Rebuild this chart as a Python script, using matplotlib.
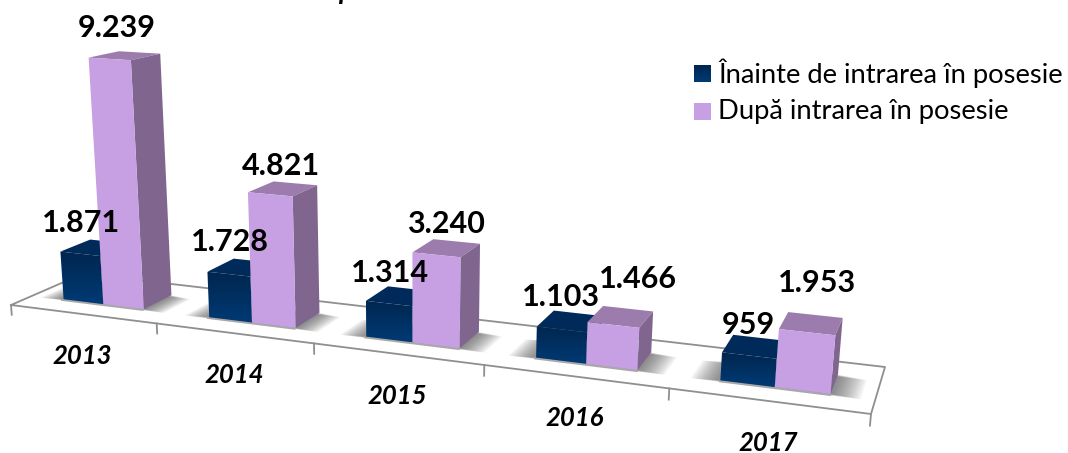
#!/usr/bin/env python3
"""3D style column chart, drawn through a small projective camera."""

import numpy as np
import matplotlib
matplotlib.use("Agg")
import matplotlib.pyplot as plt
from matplotlib.colors import LinearSegmentedColormap
from matplotlib.patches import Polygon

YEARS = ["2013", "2014", "2015", "2016", "2017"]
BEFORE = [1871, 1728, 1314, 1103, 959]
AFTER = [9239, 4821, 3240, 1466, 1953]
BEFORE_LABELS = ["1.871", "1.728", "1.314", "1.103", "959"]
AFTER_LABELS = ["9.239", "4.821", "3.240", "1.466", "1.953"]
SERIES_NAMES = ["Înainte de intrarea în posesie", "După intrarea în posesie"]

NAVY_TOP = "#003a75"
NAVY_BOTTOM = "#00264f"
NAVY_CAP = "#002a59"
NAVY_SIDE = "#001f40"
LILAC = "#c6a0e2"
LILAC_CAP = "#9b7cad"
LILAC_SIDE = "#80668f"
FLOOR_LINE = "#8f8f8f"

# floor corners on the canvas: front left, front right, back right, back left
FLOOR = np.array([[11, 305], [871, 414], [885, 367], [83, 273.7]], dtype=float)
VANISH = np.array([413.0, 5500.0])
K = -4.92e-6

plt.rcParams["font.family"] = ["Lato", "DejaVu Sans"]


def camera():
    (x0, y0), (x1, y1), (x2, y2), (x3, y3) = FLOOR
    sx, sy = x0 - x1 + x2 - x3, y0 - y1 + y2 - y3
    dx1, dy1, dx2, dy2 = x1 - x2, y1 - y2, x3 - x2, y3 - y2
    den = dx1 * dy2 - dx2 * dy1
    g = (sx * dy2 - dx2 * sy) / den
    h = (dx1 * sy - sx * dy1) / den
    n = len(YEARS)
    return np.array([
        [(x1 - x0 + g * x1) / n, x3 - x0 + h * x3, K * VANISH[0], x0],
        [(y1 - y0 + g * y1) / n, y3 - y0 + h * y3, K * VANISH[1], y0],
        [g / n, h, K, 1.0],
    ])


CAM = camera()


def pt(u, d, v=0.0):
    p = CAM @ np.array([u, d, v, 1.0])
    return p[:2] / p[2]


def face(ax, corners, color, z):
    ax.add_patch(Polygon([pt(*c) for c in corners], closed=True, facecolor=color,
                         edgecolor="none", zorder=z))


def gradient_fill(ax, xy, cmap, z):
    # vertical gradient, clipped to the outline
    outline = Polygon(xy, closed=True, facecolor="none", edgecolor="none")
    ax.add_patch(outline)
    xy = np.asarray(xy)
    img = ax.imshow(np.linspace(1, 0, 64).reshape(-1, 1), cmap=cmap, aspect="auto", zorder=z, vmin=0, vmax=1,
                    extent=(xy[:, 0].min(), xy[:, 0].max(), xy[:, 1].max(), xy[:, 1].min()))
    img.set_clip_path(outline)


def draw_bar(ax, left, right, near, far, value, colors, z):
    cap, side, front = colors
    face(ax, [(left, near, value), (right, near, value), (right, far, value), (left, far, value)], cap, z)
    face(ax, [(right, near, 0), (right, far, 0), (right, far, value), (right, near, value)], side, z)
    corners = [(left, near, 0), (right, near, 0), (right, near, value), (left, near, value)]
    if isinstance(front, str):
        face(ax, corners, front, z)
    else:
        gradient_fill(ax, [pt(*c) for c in corners], front, z)


def draw_shadow(ax, left, right, near, far, z):
    for e in np.linspace(0.15, 0.0, 15):
        corners = [(left - e, near - e * 0.2, 0), (right + e, near - e * 0.2, 0),
                   (right + e, far - e * 0.3, 0), (left - e, far - e * 0.3, 0)]
        ax.add_patch(Polygon([pt(*c) for c in corners], closed=True, facecolor="#404040",
                             edgecolor="none", alpha=0.06, zorder=z))
    ax.plot(*zip(pt(left, near - 0.02), pt(right, near - 0.02)), color="#a8a8a8", lw=1.5, zorder=z)


def main():
    fig = plt.figure(figsize=(10.68, 4.53), dpi=100)
    ax = fig.add_axes([0, 0, 1, 1])
    navy = LinearSegmentedColormap.from_list("navy", [NAVY_TOP, NAVY_BOTTOM])

    n = len(YEARS)
    near, far = 0.29, 0.71
    width = 0.28

    # floor plate and tick marks
    edges = [(0, 0), (n, 0), (n, 1), (0, 1), (0, 0)]
    ax.plot(*zip(*[pt(u, d) for u, d in edges]), color=FLOOR_LINE, lw=1.3, zorder=1)
    for i in range(n + 1):
        ax.plot(*zip(pt(i, 0), pt(i, 0, -380)), color=FLOOR_LINE, lw=1.3, zorder=1)

    before_nudge = [(1, -2), (1, -3), (1, -2), (-1, -3), (-1, -2)]
    after_nudge = [(7, -2), (11, 1), (10, -2), (25, -17), (10, -20)]

    for i in range(n):
        a, b, c = i + 0.5 - width, i + 0.5, i + 0.5 + width
        draw_shadow(ax, a, c, near, far, 2)
        z = 3 + i
        draw_bar(ax, a, b, near, far, BEFORE[i], (NAVY_CAP, NAVY_SIDE, navy), z)
        draw_bar(ax, b, c, near, far, AFTER[i], (LILAC_CAP, LILAC_SIDE, LILAC), z)

        lx, ly = pt((a + b) / 2, near, BEFORE[i])
        ax.text(lx + before_nudge[i][0], ly - 29 + before_nudge[i][1], BEFORE_LABELS[i], ha="center", va="center",
                fontsize=22, fontweight="bold", color="black", zorder=20)
        lx, ly = pt((b + c) / 2, near, AFTER[i])
        ax.text(lx + after_nudge[i][0], ly - 29 + after_nudge[i][1], AFTER_LABELS[i], ha="center", va="center",
                fontsize=22, fontweight="bold", color="black", zorder=20)

        tx, ty = pt(i + 0.5, 0)
        ax.text(tx, ty + 42, YEARS[i], ha="center", va="center", fontsize=18.5, fontweight="bold",
                fontstyle="italic", color="black", zorder=20)

    # legend
    gradient_fill(ax, [(694, 65), (711, 65), (711, 82), (694, 82)], navy, 20)
    ax.add_patch(Polygon([(694, 103), (711, 103), (711, 120), (694, 120)], closed=True, facecolor=LILAC,
                         edgecolor="none", zorder=20))
    for y, name in zip([73, 111], SERIES_NAMES):
        ax.text(718, y, name, ha="left", va="center", fontsize=19.7, color="black", zorder=20)

    # title of the original is cut off by the crop, only a descender shows
    ax.text(338, -9, "p", ha="left", va="center", fontsize=20, fontweight="bold", fontstyle="italic", color="black")

    ax.set_xlim(0, 1068)
    ax.set_ylim(453, 0)
    ax.axis("off")
    fig.savefig("out.png", dpi=100, facecolor="white")


if __name__ == "__main__":
    main()
